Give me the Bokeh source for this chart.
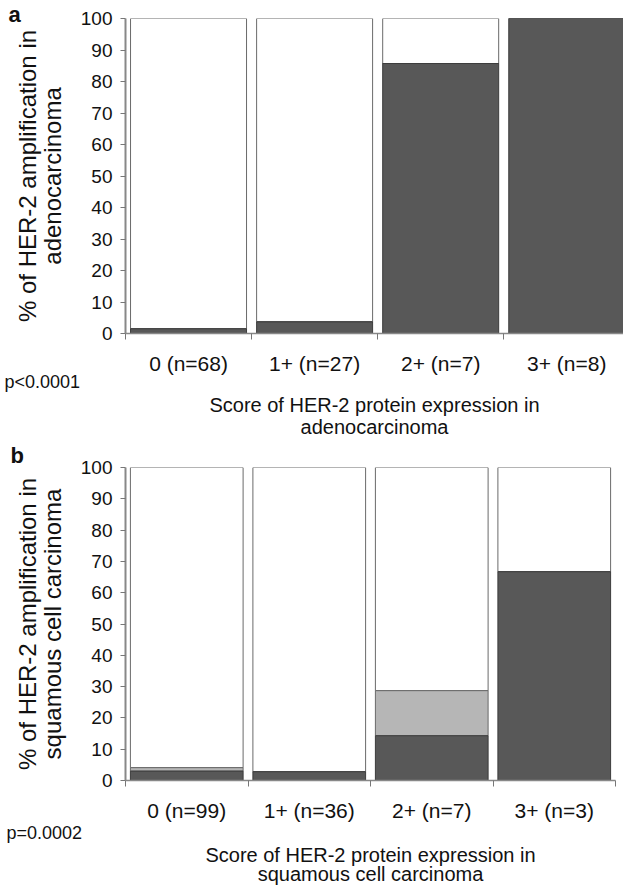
from bokeh.plotting import figure
from bokeh.layouts import column
from bokeh.models import FixedTicker, Range1d, ColumnDataSource, Title
from bokeh.embed import file_html
from bokeh.resources import INLINE

# ---- data ----
cats_a = ["0 (n=68)", "1+ (n=27)", "2+ (n=7)", "3+ (n=8)"]
amp_a = [1.5, 3.7, 85.7, 100.0]          # % HER-2 amplified (dark)
equiv_a = [0.0, 0.0, 0.0, 0.0]           # equivocal (light grey)

cats_b = ["0 (n=99)", "1+ (n=36)", "2+ (n=7)", "3+ (n=3)"]
amp_b = [3.0, 2.8, 14.3, 66.7]
equiv_b = [1.1, 0.0, 14.4, 0.0]

y_ticks = [0, 10, 20, 30, 40, 50, 60, 70, 80, 90, 100]

FONT = "Liberation Sans"
DARK = "#585858"
GREY = "#b6b6b6"
INK = "#111111"


def panel(cats, amp, equiv, letter, pval, ylabel, xlabel_lines,
          frame_w, frame_h, xend, b_left, b_right, b_top, b_bottom,
          letter_standoff, stand):
    n = len(cats)
    centers = [i + 0.5 for i in range(n)]
    bounds = [float(i) for i in range(n + 1)]
    top_e = [a + e for a, e in zip(amp, equiv)]
    src = ColumnDataSource(dict(x=centers, amp=amp, top_e=top_e,
                                full=[100.0] * n))
    p = figure(frame_width=frame_w, frame_height=frame_h,
               x_range=Range1d(0, xend), y_range=Range1d(0, 100),
               output_backend="svg", toolbar_location=None,
               min_border_left=b_left, min_border_right=b_right,
               min_border_top=b_top, min_border_bottom=b_bottom)
    p.grid.visible = False
    p.outline_line_color = None
    w = 0.92
    p.vbar(x="x", width=w, bottom="top_e", top="full", source=src,
           fill_color="white", line_color="#6a6a6a", line_width=1)
    p.vbar(x="x", width=w, bottom="amp", top="top_e", source=src,
           fill_color=GREY, line_color="#6a6a6a", line_width=1)
    p.vbar(x="x", width=w, bottom=0, top="amp", source=src,
           fill_color=DARK, line_color="#3c3c3c", line_width=1)

    # panel letter, top-left
    p.title.text = letter
    p.title.align = "left"
    p.title.offset = -(b_left - 8)
    p.title.standoff = letter_standoff
    p.title.text_font = FONT
    p.title.text_font_size = "22px"
    p.title.text_font_style = "bold"
    p.title.text_color = INK

    xa = p.xaxis[0]
    xa.ticker = FixedTicker(ticks=centers, minor_ticks=bounds)
    xa.major_label_overrides = {c: lab for c, lab in zip(centers, cats)}
    xa.major_tick_out = 0
    xa.major_tick_in = 0
    xa.minor_tick_out = 6
    xa.minor_tick_in = 0
    xa.minor_tick_line_color = "#777777"
    xa.axis_line_color = "#888888"
    xa.axis_line_width = 1.5
    xa.major_label_text_font = FONT
    xa.major_label_text_font_size = "21px"
    xa.major_label_text_color = INK
    xa.major_label_standoff = 12

    ya = p.yaxis[0]
    ya.ticker = FixedTicker(ticks=y_ticks, minor_ticks=[])
    ya.major_tick_out = 5
    ya.major_tick_in = 0
    ya.major_tick_line_color = "#777777"
    ya.axis_line_color = "#888888"
    ya.axis_line_width = 2
    ya.major_label_text_font = FONT
    ya.major_label_text_font_size = "19px"
    ya.major_label_text_color = INK
    ya.major_label_standoff = 8
    ya.axis_label = ylabel
    ya.axis_label_text_font = FONT
    ya.axis_label_text_font_size = "24px"
    ya.axis_label_text_line_height = 0.9
    ya.axis_label_text_font_style = "normal"
    ya.axis_label_text_color = INK
    ya.axis_label_standoff = 12

    # p-value, left, under the category labels
    p.add_layout(Title(text=pval, align="left", offset=-(b_left - 4),
                       standoff=stand[0], text_font=FONT,
                       text_font_size="18px", text_font_style="normal",
                       text_color=INK), "below")
    # x-axis title, two centred lines
    p.add_layout(Title(text=xlabel_lines[0], align="center",
                       standoff=stand[1], text_font=FONT,
                       text_font_size="20px", text_font_style="normal",
                       text_color=INK), "below")
    p.add_layout(Title(text=xlabel_lines[1], align="center",
                       standoff=stand[2], text_font=FONT,
                       text_font_size="20px", text_font_style="normal",
                       text_color=INK), "below")
    return p


pa = panel(cats_a, amp_a, equiv_a, "a", "p<0.0001",
           "% of HER-2 amplification in\nadenocarcinoma",
           ["Score of HER-2 protein expression in", "adenocarcinoma"],
           frame_w=498, frame_h=315, xend=3.95, b_left=125, b_right=0,
           b_top=18, b_bottom=107, letter_standoff=-16,
           stand=(-16, 16, -20))

pb = panel(cats_b, amp_b, equiv_b, "b", "p=0.0002",
           "% of HER-2 amplification in\nsquamous cell carcinoma",
           ["Score of HER-2 protein expression in", "squamous cell carcinoma"],
           frame_w=490, frame_h=313, xend=4.0, b_left=123, b_right=10,
           b_top=27, b_bottom=107, letter_standoff=0,
           stand=(-8, 6, -15))

layout = column(pa, pb, spacing=0)
open("out.html", "w").write(file_html(layout, INLINE))
